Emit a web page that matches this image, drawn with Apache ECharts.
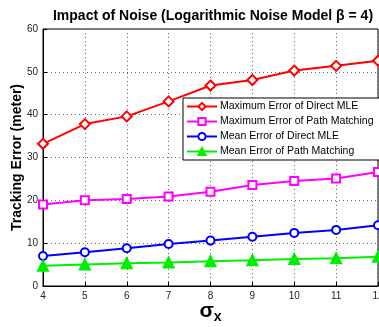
<!DOCTYPE html>
<html>
<head>
<meta charset="utf-8">
<script src="https://cdn.jsdelivr.net/npm/echarts@6/dist/echarts.min.js"></script>
<style>
  html, body { margin: 0; padding: 0; background: #fff; }
  #chart { width: 379px; height: 327px; }
</style>
</head>
<body>
<div id="chart"></div>
<script>
var sigmaX = [4, 5, 6, 7, 8, 9, 10, 11, 12];
var maxErrMLE = [33.2, 37.8, 39.6, 43.1, 46.8, 48.1, 50.3, 51.4, 52.6];
var maxErrPath = [19.0, 20.0, 20.3, 20.9, 22.0, 23.6, 24.5, 25.1, 26.6];
var meanErrMLE = [7.0, 7.9, 8.8, 9.8, 10.6, 11.5, 12.4, 13.1, 14.2];
var meanErrPath = [4.7, 5.0, 5.3, 5.5, 5.8, 6.0, 6.3, 6.5, 6.8];
var yTicks = [0, 10, 20, 30, 40, 50, 60];

function pairs(ys) {
  return sigmaX.map(function (x, i) { return [x, ys[i]]; });
}

function line(name, ys, color, symbol, size) {
  return {
    name: name,
    type: "line",
    data: pairs(ys),
    symbol: symbol,
    symbolSize: size,
    lineStyle: { color: color, width: 2 },
    itemStyle: { color: color, borderColor: color, borderWidth: 2 }
  };
}

var chart = echarts.init(document.getElementById("chart"));
chart.setOption({
  backgroundColor: "#fff",
  animation: false,
  title: {
    text: "Impact of Noise (Logarithmic Noise Model β = 4)",
    left: 208,
    textAlign: "center",
    top: 4,
    textStyle: { fontFamily: "Liberation Sans", fontSize: 14, fontWeight: "bold", color: "#000" }
  },
  grid: {
    left: 43, right: 1, top: 29, bottom: 41,
    outerBoundsMode: "none",
    containLabel: false,
    show: true, borderColor: "#000", borderWidth: 1, backgroundColor: "transparent"
  },
  legend: {
    orient: "vertical",
    left: 183,
    top: 98,
    width: 200,
    itemWidth: 30,
    itemHeight: 9,
    itemGap: 4,
    padding: [3, 8, 3, 3],
    backgroundColor: "#fff",
    borderColor: "#000",
    borderWidth: 1,
    borderRadius: 0,
    textStyle: { fontFamily: "Liberation Sans", fontSize: 10.5, color: "#000", padding: [0, 0, 0, -2] },
    data: ["Maximum Error of Direct MLE", "Maximum Error of Path Matching",
           "Mean Error of Direct MLE", "Mean Error of Path Matching"]
  },
  xAxis: {
    type: "value",
    min: 4, max: 12, interval: 1,
    name: "{s|σ}{x|x}",
    nameLocation: "middle",
    nameGap: 12,
    nameMoveOverlap: false,
    nameTextStyle: {
      rich: {
        s: { fontFamily: "Liberation Sans", fontSize: 21, fontWeight: "bold", color: "#000" },
        x: { fontFamily: "Liberation Sans", fontSize: 14, fontWeight: "bold", color: "#000", padding: [12, 0, 0, 0] }
      }
    },
    axisLine: { lineStyle: { color: "#000", width: 1 } },
    axisTick: { inside: true, length: 4, lineStyle: { color: "#000" } },
    axisLabel: { fontFamily: "Liberation Sans", fontSize: 10, color: "#222", margin: 5 },
    splitLine: { show: true, lineStyle: { color: "#666", type: [1, 3], width: 1 } }
  },
  yAxis: {
    type: "value",
    min: yTicks[0], max: yTicks[yTicks.length - 1], interval: 10,
    name: "Tracking Error (meter)",
    nameLocation: "middle",
    nameGap: 19,
    nameMoveOverlap: false,
    nameTextStyle: { fontFamily: "Liberation Sans", fontSize: 14, fontWeight: "bold", color: "#000" },
    axisLine: { lineStyle: { color: "#000", width: 1 } },
    axisTick: { inside: true, length: 4, lineStyle: { color: "#000" } },
    axisLabel: { fontFamily: "Liberation Sans", fontSize: 10, color: "#222", margin: 5 },
    splitLine: { show: true, lineStyle: { color: "#666", type: [1, 3], width: 1 } }
  },
  series: [
    line("Maximum Error of Direct MLE", maxErrMLE, "#ff0000", "emptyDiamond", 10),
    line("Maximum Error of Path Matching", maxErrPath, "#ff00ff", "emptyRect", 8),
    line("Mean Error of Direct MLE", meanErrMLE, "#0000ff", "emptyCircle", 8),
    line("Mean Error of Path Matching", meanErrPath, "#00ee00", "triangle", 10)
  ]
});
</script>
</body>
</html>
